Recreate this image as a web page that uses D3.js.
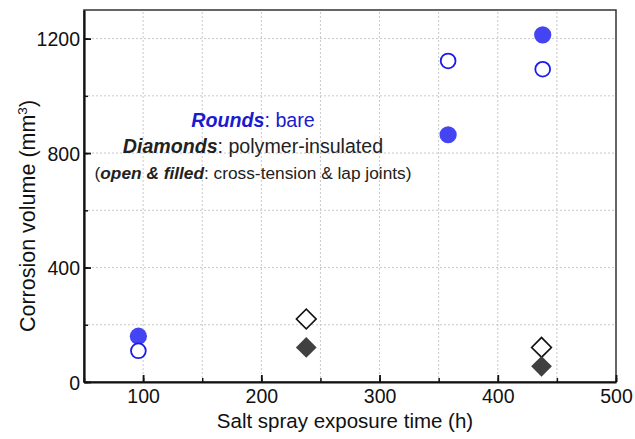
<!DOCTYPE html>
<html lang="en">
<head>
<meta charset="utf-8">
<title>corrosion volume</title>
<script src="https://d3js.org/d3.v7.min.js"></script>
<style>
  body { margin: 0; background: #fff; }
  text { font-family: "Liberation Sans", Arial, sans-serif; }
  .tick text { font-size: 19.5px; fill: #111; }
  .axis-label { font-size: 20.5px; fill: #111; }
  .note { fill: #222; }
</style>
</head>
<body>
<div id="chart"></div>
<script>
var width = 635, height = 439;
var margin = {left: 84, right: 19, top: 10, bottom: 57};

// bare (rounds): open = cross-tension, filled = lap joints
var roundsOpen   = [[96, 109], [358, 1122], [438, 1093]];
var roundsFilled = [[96, 160], [358, 864], [438, 1213]];
// polymer-insulated (diamonds)
var diamondsOpen   = [[238, 220], [437, 121]];
var diamondsFilled = [[238, 121], [437, 55]];

var xTicks = [100, 200, 300, 400, 500];
var yTicks = [0, 400, 800, 1200];
var xMinor = [50, 100, 150, 200, 250, 300, 350, 400, 450, 500];
var yMinor = [0, 200, 400, 600, 800, 1000, 1200];

var svg = d3.select("#chart").append("svg")
    .attr("width", width)
    .attr("height", height);

var x = d3.scaleLinear().domain([50, 500]).range([margin.left, width - margin.right]);
var y = d3.scaleLinear().domain([0, 1300]).range([height - margin.bottom, margin.top]);

var x0 = x.range()[0], x1 = x.range()[1], y0 = y.range()[0], y1 = y.range()[1];

// dotted grid
svg.append("g").selectAll("line")
    .data(xMinor.filter(function(d) { return d > 50 && d < 500; }))
    .enter().append("line")
    .attr("x1", function(d) { return x(d); }).attr("x2", function(d) { return x(d); })
    .attr("y1", y0).attr("y2", y1)
    .attr("stroke", "#c8c8c8").attr("stroke-width", 1).attr("stroke-dasharray", "2,2");

svg.append("g").selectAll("line")
    .data(yMinor.filter(function(d) { return d > 0; }))
    .enter().append("line")
    .attr("x1", x0).attr("x2", x1)
    .attr("y1", function(d) { return y(d); }).attr("y2", function(d) { return y(d); })
    .attr("stroke", "#c8c8c8").attr("stroke-width", 1).attr("stroke-dasharray", "2,2");

// frame
svg.append("rect")
    .attr("x", x0).attr("y", y1)
    .attr("width", x1 - x0).attr("height", y0 - y1)
    .attr("fill", "none").attr("stroke", "#333").attr("stroke-width", 1.5);

// minor ticks (inside)
svg.append("g")
    .attr("transform", "translate(0," + y0 + ")")
    .call(d3.axisTop(x).tickValues(xMinor).tickSize(4).tickFormat(""))
    .call(function(g) { g.select(".domain").remove(); })
    .selectAll("line").attr("stroke", "#111").attr("stroke-width", 1.5);

svg.append("g")
    .attr("transform", "translate(" + x0 + ",0)")
    .call(d3.axisRight(y).tickValues(yMinor).tickSize(4).tickFormat(""))
    .call(function(g) { g.select(".domain").remove(); })
    .selectAll("line").attr("stroke", "#111").attr("stroke-width", 1.5);

// major axes
var xAxis = svg.append("g")
    .attr("transform", "translate(0," + y0 + ")")
    .call(d3.axisBottom(x).tickValues(xTicks).tickFormat(d3.format("d"))
        .tickSizeInner(-7).tickSizeOuter(0));
xAxis.select(".domain").attr("stroke", "#111").attr("stroke-width", 2.2);
xAxis.selectAll("line").attr("stroke", "#111").attr("stroke-width", 1.8);
xAxis.selectAll("text").attr("y", 21).attr("dy", null);

var yAxis = svg.append("g")
    .attr("transform", "translate(" + x0 + ",0)")
    .call(d3.axisLeft(y).tickValues(yTicks).tickFormat(d3.format("d"))
        .tickSizeInner(-7).tickSizeOuter(0));
yAxis.select(".domain").attr("stroke", "#111").attr("stroke-width", 2.2);
yAxis.selectAll("line").attr("stroke", "#111").attr("stroke-width", 1.8);
yAxis.selectAll("text").attr("x", -4).attr("dy", "0.36em");

svg.selectAll(".tick text").attr("fill", "#111");

// axis titles
svg.append("text")
    .attr("class", "axis-label")
    .attr("text-anchor", "middle")
    .attr("x", 345)
    .attr("y", 428)
    .text("Salt spray exposure time (h)");

var yl = svg.append("text")
    .attr("class", "axis-label")
    .attr("font-size", "21.5px")
    .style("font-size", "21.5px")
    .attr("text-anchor", "middle")
    .attr("transform", "translate(35,216) rotate(-90)");
yl.append("tspan").text("Corrosion volume (mm");
yl.append("tspan").style("font-size", "13.5px").attr("dy", "-8").text("3");
yl.append("tspan").attr("dy", "8").text(")");

// markers
var pts = svg.append("g");
pts.selectAll(".rf").data(roundsFilled).enter().append("circle")
    .attr("cx", function(d) { return x(d[0]); })
    .attr("cy", function(d) { return y(d[1]); })
    .attr("r", 8.6)
    .attr("fill", "#4444f2");

pts.selectAll(".ro").data(roundsOpen).enter().append("circle")
    .attr("cx", function(d) { return x(d[0]); })
    .attr("cy", function(d) { return y(d[1]); })
    .attr("r", 7.4)
    .attr("fill", "#fff")
    .attr("stroke", "#1c1ce6")
    .attr("stroke-width", 1.8);

var diamond = d3.symbol().type(d3.symbolSquare).size(195);
pts.selectAll(".do").data(diamondsOpen).enter().append("path")
    .attr("d", diamond)
    .attr("transform", function(d) { return "translate(" + x(d[0]) + "," + y(d[1]) + ") rotate(45)"; })
    .attr("fill", "#fff")
    .attr("stroke", "#111")
    .attr("stroke-width", 1.6);

pts.selectAll(".df").data(diamondsFilled).enter().append("path")
    .attr("d", d3.symbol().type(d3.symbolSquare).size(215))
    .attr("transform", function(d) { return "translate(" + x(d[0]) + "," + y(d[1]) + ") rotate(45)"; })
    .attr("fill", "#404040");

// annotation
var cx = 253;
var t1 = svg.append("text").attr("text-anchor", "middle").attr("x", cx).attr("y", 127)
    .attr("font-size", "19.7px").attr("fill", "#1a1ad0");
t1.append("tspan").attr("font-weight", "bold").attr("font-style", "italic").text("Rounds");
t1.append("tspan").text(": bare");

var t2 = svg.append("text").attr("class", "note").attr("text-anchor", "middle").attr("x", cx).attr("y", 153)
    .attr("font-size", "19.6px");
t2.append("tspan").attr("font-weight", "bold").attr("font-style", "italic").text("Diamonds");
t2.append("tspan").text(": polymer-insulated");

var t3 = svg.append("text").attr("class", "note").attr("text-anchor", "middle").attr("x", cx).attr("y", 179)
    .attr("font-size", "17.3px");
t3.append("tspan").text("(");
t3.append("tspan").attr("font-weight", "bold").attr("font-style", "italic").text("open & filled");
t3.append("tspan").text(": cross-tension & lap joints)");
</script>
</body>
</html>
